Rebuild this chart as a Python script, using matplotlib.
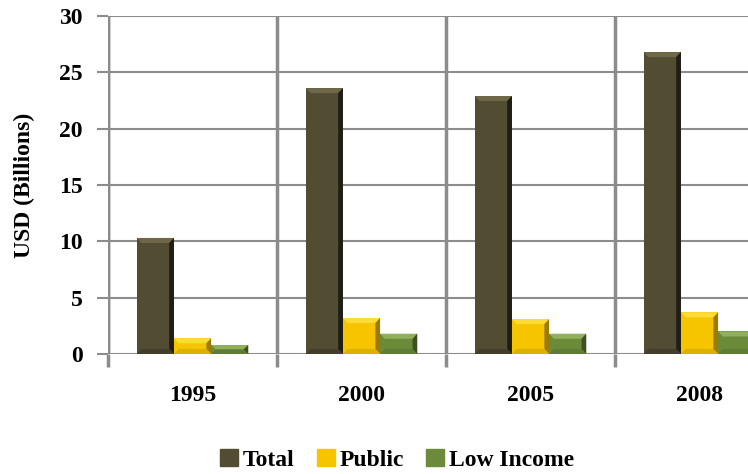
import matplotlib.pyplot as plt
from matplotlib.patches import Polygon
import numpy as np

years = ['1995', '2000', '2005', '2008']
total = [10.3, 23.6, 22.9, 26.8]
public = [1.4, 3.2, 3.1, 3.7]
low_income = [0.8, 1.8, 1.8, 2.0]

# name, values, face, top bevel, right bevel, bottom bevel
series = [('Total', total, '#524c33', '#6e6849', '#1f1d15', '#433e2a'),
          ('Public', public, '#f6c500', '#ffdb3a', '#9c7c00', '#dcb000'),
          ('Low Income', low_income, '#6b8b3b', '#90b05c', '#3c4f20', '#5e7c33')]

plt.rcParams['font.family'] = 'Liberation Serif'
plt.rcParams['font.weight'] = 'bold'

fig = plt.figure(figsize=(7.48, 4.74), dpi=100)
ax = fig.add_axes([108 / 748, 120 / 474, 676 / 748, 338 / 474])

x = np.arange(len(years))
w = 0.22
bx = 0.028  # bevel size in x units
by = 0.45   # bevel size in y units
for i, (name, vals, face, top, right, bottom) in enumerate(series):
    pos = x + (i - 1) * w
    ax.bar(pos, vals, w, color=face, label=name, zorder=3)
    for p, v in zip(pos, vals):
        x0, x1 = p - w / 2, p + w / 2
        b = min(by, v / 2)
        ax.add_patch(Polygon([(x0, v), (x1, v), (x1 - bx, v - b), (x0 + bx, v - b)],
                             closed=True, color=top, zorder=4, lw=0))
        ax.add_patch(Polygon([(x1, v), (x1, 0), (x1 - bx, b), (x1 - bx, v - b)],
                             closed=True, color=right, zorder=4, lw=0))
        ax.add_patch(Polygon([(x0, 0), (x1, 0), (x1 - bx, b), (x0 + bx, b)],
                             closed=True, color=bottom, zorder=4, lw=0))

ax.set_xlim(-0.5, 3.5)
ax.set_ylim(0, 30)
ax.set_yticks(range(0, 31, 5))
ax.set_xticks(x)
ax.set_xticklabels(years, fontsize=17, fontweight='bold')
ax.tick_params(axis='x', length=0, pad=22)
ax.set_xticks(np.arange(-0.5, 4, 1), minor=True)
ax.tick_params(axis='x', which='minor', length=9, width=2.5, color='#8c8c8c')
ax.tick_params(axis='y', length=8, width=1.5, color='#8c8c8c', labelsize=17, pad=10)
for lab in ax.get_yticklabels():
    lab.set_fontweight('bold')

ax.grid(axis='y', color='#8c8c8c', linewidth=1.5, zorder=0)
ax.grid(axis='x', which='minor', color='#8c8c8c', linewidth=2.5, zorder=0)
for s in ax.spines.values():
    s.set_visible(False)
ax.axvline(-0.5, color='#8c8c8c', linewidth=2.5, zorder=1)

ax.set_ylabel('USD (Billions)', fontsize=17, fontweight='bold')
ax.yaxis.set_label_coords(-0.108, 0.5)

handles = [plt.Rectangle((0, 0), 1, 1, color=s[2]) for s in series]
fig.legend(handles, [s[0] for s in series], loc='center', bbox_to_anchor=(397 / 748, 14 / 474),
           ncol=3, frameon=False, handlelength=0.75, handleheight=0.75,
           handletextpad=0.2, columnspacing=0.95, prop={'weight': 'bold', 'size': 17})

fig.savefig('out.png', dpi=100)
